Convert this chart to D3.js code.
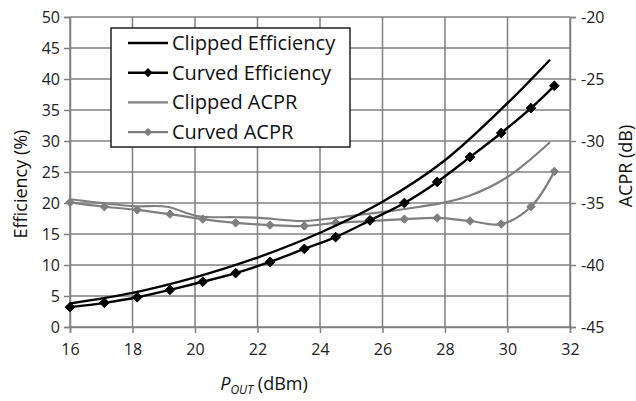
<!DOCTYPE html>
<html>
<head>
<meta charset="utf-8">
<script src="https://cdn.jsdelivr.net/npm/d3@7"></script>
<style>
  body { margin: 0; background: #fff; }
  text { font-family: "Open Sans", "Noto Sans", sans-serif; }
</style>
</head>
<body>
<div id="chart"></div>
<script>
"use strict";

// data
let clippedEffX = [16, 18, 20, 22, 24, 26, 28, 30, 31.36];
let clippedEffY = [3.8, 5.5, 8.0, 11.2, 15.2, 20.2, 26.9, 36.1, 43.1];

let curvedX = [16, 17.1, 18.15, 19.2, 20.25, 21.3, 22.4, 23.5, 24.5, 25.6, 26.7, 27.75, 28.8, 29.8, 30.75, 31.5];
let curvedEffY = [3.2, 3.9, 4.8, 6.0, 7.3, 8.7, 10.5, 12.6, 14.5, 17.2, 20.0, 23.4, 27.4, 31.3, 35.3, 38.9];
let curvedAcprY = [-34.95, -35.3, -35.55, -35.9, -36.3, -36.6, -36.78, -36.85, -36.6, -36.45, -36.3, -36.2, -36.45, -36.7, -35.3, -32.45];

let clippedAcprX = [16, 18, 19.1, 20.06, 21.3, 22.08, 23.46, 24.96, 26.24, 27.2, 28, 28.8, 30, 31.36];
let clippedAcprY = [-34.7, -35.25, -35.3, -36.05, -36.15, -36.2, -36.45, -36.05, -35.65, -35.3, -34.95, -34.4, -32.9, -30.1];

let xTicks = [16, 18, 20, 22, 24, 26, 28, 30, 32];
let effTicks = [0, 5, 10, 15, 20, 25, 30, 35, 40, 45, 50];
let acprTicks = [-45, -40, -35, -30, -25, -20];

let legendNames = ["Clipped Efficiency", "Curved Efficiency", "Clipped ACPR", "Curved ACPR"];

let W = 636, H = 401;
let pLeft = 70, pRight = 570, pTop = 17, pBottom = 327;

let svg = d3.select("#chart").append("svg")
    .attr("width", W)
    .attr("height", H);

let x = d3.scaleLinear().domain([16, 32]).range([pLeft, pRight]);
let yEff = d3.scaleLinear().domain([0, 50]).range([pBottom, pTop]);
let yAcpr = d3.scaleLinear().domain([-45, -20]).range([pBottom, pTop]);

let gridColor = "#808080";
let black = "#000";
let grey = "#7f7f7f";

// grid
let grid = svg.append("g");
grid.selectAll(".gx").data(xTicks).enter().append("line")
    .attr("x1", d => x(d)).attr("x2", d => x(d))
    .attr("y1", pTop).attr("y2", pBottom)
    .attr("stroke", gridColor).attr("stroke-width", 1.5);
grid.selectAll(".gy").data(effTicks).enter().append("line")
    .attr("x1", pLeft).attr("x2", pRight)
    .attr("y1", d => yEff(d)).attr("y2", d => yEff(d))
    .attr("stroke", gridColor).attr("stroke-width", 1.5);

// axes
let xAxis = svg.append("g")
    .attr("transform", `translate(0,${pBottom})`)
    .call(d3.axisBottom(x).tickValues(xTicks).tickSize(6).tickPadding(11).tickFormat(d3.format("d")));
let leftAxis = svg.append("g")
    .attr("transform", `translate(${pLeft},0)`)
    .call(d3.axisLeft(yEff).tickValues(effTicks).tickSize(6).tickPadding(4).tickFormat(d3.format("d")));
let rightAxis = svg.append("g")
    .attr("transform", `translate(${pRight},0)`)
    .call(d3.axisRight(yAcpr).tickValues(acprTicks).tickSize(6).tickPadding(5).tickFormat(d => d));

[xAxis, leftAxis, rightAxis].forEach(a => {
    a.select(".domain").attr("stroke", gridColor).attr("stroke-width", 1.5);
    a.selectAll(".tick line").attr("stroke", gridColor).attr("stroke-width", 1.5);
    a.selectAll(".tick text").attr("fill", "#222").style("font-size", "16px");
});

// lines
let smooth = d3.curveCatmullRom.alpha(0.5);

function drawLine(xs, ys, yScale, color, width) {
    let pts = xs.map((d, i) => [d, ys[i]]);
    svg.append("path")
        .datum(pts)
        .attr("fill", "none")
        .attr("stroke", color)
        .attr("stroke-width", width)
        .attr("d", d3.line().x(d => x(d[0])).y(d => yScale(d[1])).curve(smooth));
    return pts;
}

function drawMarkers(pts, yScale, color, size) {
    svg.append("g").selectAll("path").data(pts).enter().append("path")
        .attr("transform", d => `translate(${x(d[0])},${yScale(d[1])})`)
        .attr("d", d3.symbol(d3.symbolDiamond2, size)())
        .attr("fill", color)
        .attr("stroke", color)
        .attr("stroke-width", 1);
}

drawLine(clippedAcprX, clippedAcprY, yAcpr, grey, 2.2);
let cAcpr = drawLine(curvedX, curvedAcprY, yAcpr, grey, 2.2);
drawMarkers(cAcpr, yAcpr, grey, 45);
drawLine(clippedEffX, clippedEffY, yEff, black, 2.4);
let cEff = drawLine(curvedX, curvedEffY, yEff, black, 2.4);
drawMarkers(cEff, yEff, black, 60);

// legend
let legend = svg.append("g");
legend.append("rect")
    .attr("x", 111).attr("y", 28)
    .attr("width", 239).attr("height", 119)
    .attr("fill", "#fff").attr("stroke", "#222").attr("stroke-width", 1.5);

let legendColors = [black, black, grey, grey];
let legendMarks = [false, true, false, true];
legendNames.forEach((name, i) => {
    let ly = 43 + i * 29.7;
    legend.append("line")
        .attr("x1", 128).attr("x2", 168)
        .attr("y1", ly).attr("y2", ly)
        .attr("stroke", legendColors[i]).attr("stroke-width", 2.4);
    if (legendMarks[i]) {
        legend.append("path")
            .attr("transform", `translate(148,${ly})`)
            .attr("d", d3.symbol(d3.symbolDiamond2, i == 1 ? 55 : 45)())
            .attr("fill", legendColors[i]);
    }
    legend.append("text")
        .attr("x", 172).attr("y", ly)
        .attr("dy", "0.35em")
        .style("font-size", "20px")
        .attr("fill", "#111")
        .text(name);
});

// axis titles
svg.append("text")
    .attr("transform", "translate(27,184) rotate(-90)")
    .attr("text-anchor", "middle")
    .style("font-size", "18px")
    .attr("fill", "#111")
    .text("Efficiency (%)");

svg.append("text")
    .attr("transform", "translate(632,166) rotate(-90)")
    .attr("text-anchor", "middle")
    .style("font-size", "18px")
    .attr("fill", "#111")
    .text("ACPR (dB)");

let xt = svg.append("text")
    .attr("x", 264).attr("y", 390)
    .attr("text-anchor", "middle")
    .style("font-size", "18px")
    .attr("fill", "#111");
xt.append("tspan").style("font-style", "italic").text("P");
xt.append("tspan").style("font-style", "italic").style("font-size", "12px").attr("dy", 4).text("OUT");
xt.append("tspan").attr("dy", -4).text(" (dBm)");
</script>
</body>
</html>
